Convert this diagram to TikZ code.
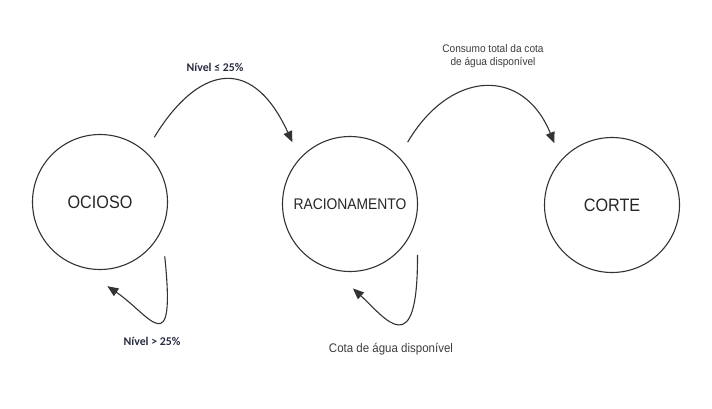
\documentclass[tikz,border=0pt]{standalone}
\usepackage{fontspec}
\setmainfont{Liberation Sans}
\newfontfamily\statefont[FakeStretch=0.9]{Liberation Sans}
\newfontfamily\notefont[FakeStretch=0.92]{Liberation Sans}
\newfontfamily\condfont{Carlito}
\usetikzlibrary{arrows.meta}
\definecolor{edgegray}{HTML}{333333}
\definecolor{notegray}{HTML}{3C3C3C}
\definecolor{condnavy}{HTML}{262B40}
\begin{document}
\begin{tikzpicture}[x=1pt, y=-1pt,
  state/.style={circle, draw=edgegray, line width=1.1pt, minimum size=135pt,
    inner sep=0pt, outer sep=17pt, text=black!85},
  trans/.style={draw=edgegray, line width=1.1pt,
    -{Triangle[length=11pt, width=9pt]}},
  cond/.style={font=\condfont\bfseries\fontsize{11.8}{13}\selectfont, text=condnavy},
  note/.style={font=\notefont, text=notegray, align=center}]
  \useasboundingbox (0,0) rectangle (712,408);

  % states
  \node[state, font=\statefont\fontsize{18}{20}\selectfont] (o) at (100,202) {OCIOSO};
  \node[state, font=\statefont\fontsize{15.4}{18}\selectfont] (r) at (350,204) {RACIONAMENTO};
  \node[state, font=\statefont\fontsize{18}{20}\selectfont] (c) at (612,205) {CORTE};

  % transitions
  \draw[trans] (o.50) .. controls (195,70) and (250,50) .. (r.133);
  \draw[trans] (r.47) .. controls (450,70) and (523,66) .. (c.133);
  \draw[trans] (o.-40) .. controls (176,365) and (150,315) .. (o.-85);
  \draw[trans] (r.-37) .. controls (418,365) and (385,318) .. (r.-88);

  % labels
  \node[cond] (l1) at (215,67) {Nível ≤ 25\%};
  \node[cond] (l2) at (152,341) {Nível > 25\%};
  \node[note, font=\notefont\fontsize{11}{13}\selectfont] (l3) at (493,56)
    {Consumo total da cota\\de água disponível};
  \node[note, font=\notefont\fontsize{12.5}{14}\selectfont] (l4) at (391,349)
    {Cota de água disponível};
\end{tikzpicture}
\end{document}
